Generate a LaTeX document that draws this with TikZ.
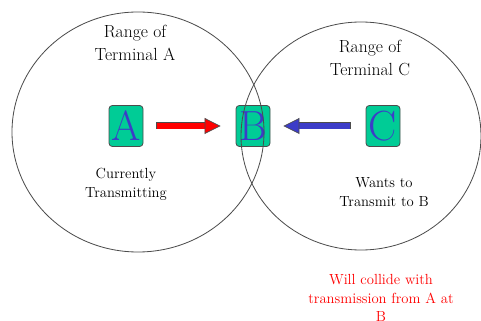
\documentclass[tikz,border=0pt]{standalone}
\usetikzlibrary{arrows.meta,positioning}
\definecolor{termgreen}{RGB}{0,204,150}
\definecolor{termblue}{RGB}{60,60,200}

\begin{document}
\begin{tikzpicture}[x=0.03cm,y=-0.03cm,
        term/.style={draw=black!70, line width=0.7pt, fill=termgreen, rounded corners=0.1cm,
            minimum width=1.02cm, minimum height=1.23cm, inner sep=0pt, text=termblue,
            font=\fontsize{36}{36}\selectfont},
        rangeline/.style={draw=black!70, line width=0.7pt},
        rangetext/.style={align=center, font=\fontsize{15}{19}\selectfont},
        note/.style={align=center, font=\fontsize{12.5}{16}\selectfont},
        rim/.style={black!70, line width=0.21cm},
        fat/.style={#1, line width=0.16cm,
            -{Triangle[length=0.48cm 0,width=0.48cm 0,line width=0.6pt 0,color=black!70,fill=#1]}}]
    \path[use as bounding box, clip] (0,0) rectangle (481,321);

    % Terminals
    \node[term] (a) at (126,126) {A};
    \node[term] (b) at (253,126) {B};
    \node[term] (c) at (383,126) {C};

    % Ranges
    \draw[rangeline] (138,132) ellipse [x radius=126, y radius=120];
    \draw[rangeline] (361,136) ellipse [x radius=120, y radius=114];
    \node[rangetext] (ra) at (135,43) {Range of\\Terminal A};
    \node[rangetext] (rc) at (370,58) {Range of\\Terminal C};

    % Transmissions
    \draw[rim, shorten <=0.39cm, shorten >=0.9cm] (a) -- (b);
    \draw[fat=red, shorten <=0.42cm, shorten >=0.45cm] (a) -- (b);
    \draw[rim, shorten <=0.45cm, shorten >=0.85cm] (c) -- (b);
    \draw[fat=termblue, shorten <=0.48cm, shorten >=0.39cm] (c) -- (b);

    % Notes
    \node[note] (na) at (126,184) {Currently\\Transmitting};
    \node[note] (nc) at (384,192) {Wants to\\Transmit to B};
    \node[note, text=red] (col) at (381,298) {Will collide with\\transmission from A at\\B};
\end{tikzpicture}
\end{document}
